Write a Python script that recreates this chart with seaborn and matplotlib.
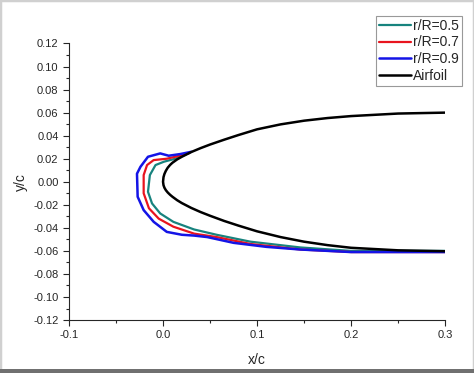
import numpy as np
import pandas as pd
import matplotlib
matplotlib.use('Agg')
import matplotlib.pyplot as plt
from matplotlib.ticker import MultipleLocator, FormatStrFormatter
import seaborn as sns

# airfoil surfaces (leading edge region)
af_x = [0.0, 0.0005, 0.0015, 0.003, 0.005, 0.0075, 0.01, 0.015, 0.02, 0.03, 0.04, 0.05, 0.065, 0.08, 0.1,
        0.125, 0.15, 0.175, 0.2, 0.25, 0.3]
af_upper = [0.0, 0.004, 0.0068, 0.0095, 0.0122, 0.0146, 0.0165, 0.0194, 0.0217, 0.0258, 0.0292, 0.0323,
            0.0365, 0.0405, 0.0455, 0.0498, 0.0530, 0.0553, 0.0570, 0.0592, 0.0600]
af_lower = [0.0, -0.003, -0.0052, -0.0073, -0.0093, -0.0113, -0.0130, -0.0160, -0.0185, -0.0227, -0.0263,
            -0.0295, -0.0340, -0.0380, -0.0430, -0.0480, -0.0520, -0.0550, -0.0573, -0.0595, -0.0603]

# ice shapes
ice05_x = [0.028, 0.013, 0.001, -0.008, -0.014, -0.016, -0.0117, -0.003, 0.011, 0.033, 0.057, 0.093, 0.146, 0.2, 0.3]
ice05_y = [0.025, 0.020, 0.0174, 0.0145, 0.0058, -0.0087, -0.0188, -0.0275, -0.0348, -0.0414, -0.046, -0.052, -0.057, -0.060, -0.060]

ice07_x = [0.028, 0.013, 0.004, -0.010, -0.017, -0.0206, -0.0206, -0.015, -0.0046, 0.011, 0.033, 0.057, 0.093, 0.146, 0.2, 0.3]
ice07_y = [0.025, 0.0217, 0.020, 0.0188, 0.0145, 0.0058, -0.010, -0.023, -0.032, -0.039, -0.045, -0.048, -0.054, -0.0588, -0.061, -0.061]

ice09_x = [0.030, 0.018, 0.006, -0.003, -0.016, -0.024, -0.0277, -0.027, -0.0206, -0.0099, 0.004, 0.020, 0.033, 0.047, 0.075, 0.11, 0.146, 0.2, 0.3]
ice09_y = [0.026, 0.024, 0.0226, 0.0246, 0.0217, 0.013, 0.007, -0.013, -0.0246, -0.0348, -0.0435, -0.046, -0.0467, -0.048, -0.053, -0.0565, -0.0588, -0.061, -0.061]

sns.set_style('ticks')
plt.rcParams['font.family'] = ['Liberation Sans', 'DejaVu Sans']

fig = plt.figure(figsize=(4.74, 3.73), dpi=100)
ax = fig.add_axes([0.1456, 0.142, 0.7934, 0.7414])

airfoil = pd.DataFrame({'x': af_x[::-1] + af_x[1:], 'y': af_upper[::-1] + af_lower[1:]})

sns.lineplot(x=ice05_x, y=ice05_y, sort=False, estimator=None, color='#17837e', lw=1.6, label='r/R=0.5', ax=ax)
sns.lineplot(x=ice07_x, y=ice07_y, sort=False, estimator=None, color='#e8141e', lw=1.6, label='r/R=0.7', ax=ax)
sns.lineplot(x=ice09_x, y=ice09_y, sort=False, estimator=None, color='#1414e6', lw=1.8, label='r/R=0.9', ax=ax)
sns.lineplot(data=airfoil, x='x', y='y', sort=False, estimator=None, color='black', lw=1.8, label='Airfoil', ax=ax)

ax.set_xlim(-0.1, 0.3)
ax.set_ylim(-0.12, 0.12)
ax.xaxis.set_major_locator(MultipleLocator(0.1))
ax.xaxis.set_minor_locator(MultipleLocator(0.05))
ax.yaxis.set_major_locator(MultipleLocator(0.02))
ax.yaxis.set_minor_locator(MultipleLocator(0.01))
ax.xaxis.set_major_formatter(FormatStrFormatter('%.1f'))
ax.yaxis.set_major_formatter(FormatStrFormatter('%.2f'))
ax.tick_params(which='major', direction='out', length=4, width=0.8, labelsize=8)
ax.tick_params(which='minor', direction='out', length=2.5, width=0.8)
sns.despine(ax=ax)
ax.set_xlabel('x/c', fontsize=10, labelpad=9)
ax.set_ylabel('y/c', fontsize=10, labelpad=4)

leg = ax.legend(loc='upper right', bbox_to_anchor=(1.045, 1.10), fontsize=10,
                fancybox=False, framealpha=1, edgecolor='#999999',
                handlelength=2.3, handletextpad=0.2, borderpad=0.2, labelspacing=0.2,
                borderaxespad=0)
leg.get_frame().set_linewidth(0.8)

# image border
fig.patches.append(plt.Rectangle((0, 0), 1, 1, transform=fig.transFigure, fill=False,
                                 edgecolor='#d0d0d0', lw=2.5))
fig.patches.append(plt.Rectangle((0, 0), 1, 0.012, transform=fig.transFigure,
                                 color='#707070', lw=0))

fig.savefig('out.png', dpi=100)
